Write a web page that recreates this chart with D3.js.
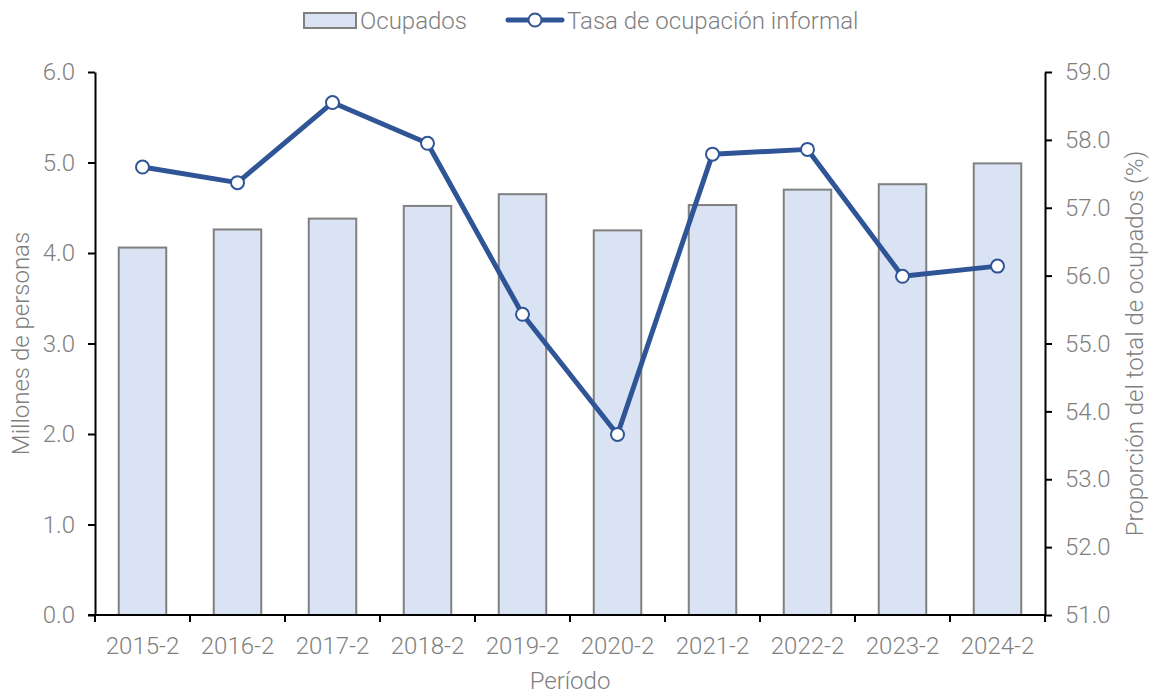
<!DOCTYPE html>
<html><head><meta charset="utf-8">
<script src="https://cdn.jsdelivr.net/npm/d3@7"></script>
<style>
html,body{margin:0;padding:0;background:#fff;}
text{font-family:Roboto,"Noto Sans",sans-serif;font-weight:300;fill:#7f7f7f;}
</style></head>
<body>
<svg id="c" width="1153" height="693"></svg>
<script>
const categories = ["2015-2","2016-2","2017-2","2018-2","2019-2","2020-2","2021-2","2022-2","2023-2","2024-2"];
const ocupados = [4.06,4.26,4.38,4.52,4.65,4.25,4.53,4.70,4.76,4.99];
const tasaInformal = [57.60,57.37,58.55,57.95,55.43,53.66,57.79,57.86,55.99,56.14];
const leftTicks = [0,1,2,3,4,5,6];
const rightTicks = [51,52,53,54,55,56,57,58,59];
const seriesNames = ["Ocupados","Tasa de ocupación informal"];
const axisTitles = {left:"Millones de personas", right:"Proporción del total de ocupados (%)", bottom:"Período"};

const svg = d3.select("#c");
const L=95, R=1045, T=72, B=615;
const blue="#2f5597", barFill="#dae3f3", barStroke="#808080";
const FS="24px";

const x = d3.scaleBand().domain(categories).range([L,R]).paddingInner(0.5).paddingOuter(0.25);
const yL = d3.scaleLinear().domain([0,6]).range([B,T]);
const yR = d3.scaleLinear().domain([51,59]).range([B,T]);

// bars
svg.append("g").selectAll("rect").data(categories).join("rect")
  .attr("x",d=>x(d)).attr("width",x.bandwidth())
  .attr("y",(d,i)=>yL(ocupados[i])).attr("height",(d,i)=>yL(0)-yL(ocupados[i]))
  .attr("fill",barFill).attr("stroke",barStroke).attr("stroke-width",2);

// axes
function styleAxis(g){
  g.select(".domain").attr("stroke","#000").attr("stroke-width",2);
  g.selectAll(".tick line").attr("stroke","#000").attr("stroke-width",2);
  g.selectAll(".tick text").style("font-size",FS).attr("fill","#7f7f7f");
}
const gL = svg.append("g").attr("transform",`translate(${L},0)`)
  .call(d3.axisLeft(yL).tickValues(leftTicks).tickFormat(d3.format(".1f")).tickSize(7).tickSizeOuter(0).tickPadding(13));
styleAxis(gL);
const gR = svg.append("g").attr("transform",`translate(${R},0)`)
  .call(d3.axisRight(yR).tickValues(rightTicks).tickFormat(d3.format(".1f")).tickSize(7).tickSizeOuter(0).tickPadding(13));
styleAxis(gR);

// bottom axis: ticks at category boundaries
const xb = d3.scaleLinear().domain([0,categories.length]).range([L,R]);
const gB = svg.append("g").attr("transform",`translate(0,${B})`);
gB.append("line").attr("x1",L-7).attr("x2",R).attr("y1",0).attr("y2",0).attr("stroke","#000").attr("stroke-width",2);
gB.selectAll("line.t").data(d3.range(categories.length+1)).join("line").attr("class","t")
  .attr("x1",d=>xb(d)).attr("x2",d=>xb(d)).attr("y1",0).attr("y2",7).attr("stroke","#000").attr("stroke-width",2);
gB.selectAll("text").data(categories).join("text")
  .attr("x",d=>x(d)+x.bandwidth()/2).attr("y",39).attr("text-anchor","middle")
  .style("font-size",FS).text(d=>d);

// line
const pts = categories.map((c,i)=>[x(c)+x.bandwidth()/2, yR(tasaInformal[i])]);
svg.append("path").attr("d",d3.line()(pts)).attr("fill","none").attr("stroke",blue).attr("stroke-width",5).attr("stroke-linejoin","round");
svg.append("g").selectAll("circle").data(pts).join("circle")
  .attr("cx",d=>d[0]).attr("cy",d=>d[1]).attr("r",6.5).attr("fill","#fff").attr("stroke",blue).attr("stroke-width",2);

// axis titles
svg.append("text").attr("transform",`translate(29,${(T+B)/2}) rotate(-90)`).attr("text-anchor","middle").style("font-size",FS).text(axisTitles.left);
svg.append("text").attr("transform",`translate(1143,${(T+B)/2}) rotate(-90)`).attr("text-anchor","middle").style("font-size",FS).text(axisTitles.right);
svg.append("text").attr("x",(L+R)/2).attr("y",689).attr("text-anchor","middle").style("font-size",FS).text(axisTitles.bottom);

// legend
const lg = svg.append("g");
lg.append("rect").attr("x",304).attr("y",13).attr("width",52).attr("height",15).attr("fill",barFill).attr("stroke",barStroke).attr("stroke-width",2);
lg.append("text").attr("x",360).attr("y",29).style("font-size",FS).text(seriesNames[0]);
lg.append("line").attr("x1",508).attr("x2",562).attr("y1",20).attr("y2",20).attr("stroke",blue).attr("stroke-width",5).attr("stroke-linecap","round");
lg.append("circle").attr("cx",535).attr("cy",20).attr("r",6.5).attr("fill","#fff").attr("stroke",blue).attr("stroke-width",2);
lg.append("text").attr("x",567).attr("y",29).style("font-size",FS).text(seriesNames[1]);
</script>
</body></html>
